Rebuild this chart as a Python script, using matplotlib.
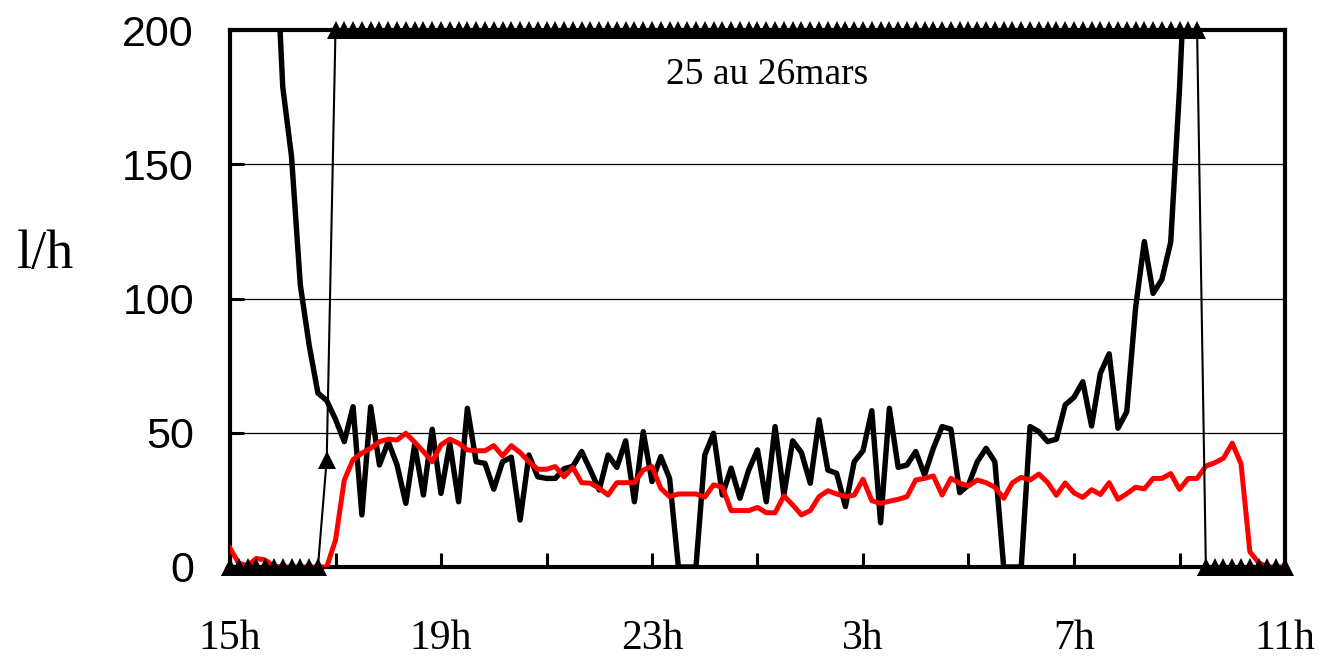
import numpy as np
import matplotlib
matplotlib.use("Agg")
import matplotlib.pyplot as plt
from matplotlib.ticker import MultipleLocator

# ---- Data (one sample every 10 minutes, from 15h to 11h next day) ----
minutes = np.arange(0, 20 * 60 + 1, 10)
hours = minutes / 60.0

# thick black series (values above 200 fall outside the plot)
debit = [
    380, 350, 320, 290, 265, 248,
    178.8, 152.8, 105, 82.7, 64.8, 62,
    55, 46.7, 59.7, 19.4, 59.7, 38, 46.7, 38,
    23.7, 45.5, 26.8, 51.3, 27.4, 46, 24.3, 59.1, 39.2, 38.6,
    29, 39.2, 40.9, 17.5, 41.7, 33.6, 33, 33, 36.6, 37.5,
    43, 36, 28.7, 41.7, 37.1, 47, 24.3, 50.4, 31.8, 41.1,
    33, 0, 0, 0, 41.7, 49.8, 26.8, 36.8, 25.6, 36.1,
    43.6, 24.3, 52.3, 26.8, 47, 42.6, 31.2, 54.8, 36.1, 34.9,
    22.5, 39.2, 43.3, 58.2, 16.5, 59.1, 37.1, 38, 43, 34.3,
    44.2, 52.3, 51.3, 27.7, 30.6, 39.2, 44.2, 39.2, 0, 0,
    0, 52.3, 50.4, 46.7, 47.6, 60.4, 63.2, 69, 52.5, 72.2,
    79.4, 51.7, 57.8, 96.4, 121.2, 101.9, 107.1, 121, 178, 250,
    290, 320, 340, 350, 360, 360, 350, 340, 330, 320, 300,
]

# red series
debit_rouge = [
    7, 1.4, 0.5, 3.2, 2.6, 0.3, 0, 0, 0, 0,
    0, 0, 10, 32.4, 40, 42.4, 44.2, 46.7, 47.6, 47.3,
    49.8, 46.5, 43, 39.2, 45.5, 47.6, 46.1, 43.6, 43.3, 43.3,
    45.2, 41.4, 45.2, 42.6, 39.2, 36.4, 36.4, 37.4, 33.6, 37.1,
    31.4, 31.2, 29.3, 26.8, 31.4, 31.4, 31.4, 36.1, 37.4, 29.3,
    26.2, 27.2, 27.2, 27.2, 26, 30.6, 29.7, 21, 21, 21,
    22.2, 20.2, 20.2, 26.5, 23.1, 19.4, 21, 26.2, 28.4, 27.2,
    26.2, 26.8, 32.7, 24.7, 23.7, 24.5, 25.2, 26.2, 32.4, 33,
    33.9, 26.8, 33, 31.2, 30.2, 32.4, 31.4, 29.7, 25.6, 31.4,
    33.4, 32.4, 34.6, 31.5, 26.7, 31.3, 27.6, 25.9, 28.8, 27,
    31.4, 25.2, 27.3, 29.7, 29.1, 33, 33, 34.8, 28.9, 33,
    33, 37.6, 38.8, 40.5, 46.1, 38.4, 5.7, 1.6, 0, 0, 0,
]

# triangle series (on / off, shown at 0 or 200)
marche = [0] * 11 + [40] + [200] * 99 + [0] * 10

x_ticks = [0, 4, 8, 12, 16, 20]
x_labels = ["15h", "19h", "23h", "3h", "7h", "11h"]
y_ticks = [0, 50, 100, 150, 200]

# ---- Plot ----
fig = plt.figure(figsize=(13.26, 6.58), dpi=100)
ax = fig.add_axes([230 / 1326, 1 - 567 / 658, 1055 / 1326, 537 / 658])

ax.plot(hours, debit, color="black", linewidth=3.9, zorder=3)
ax.plot(hours, debit_rouge, color="red", linewidth=3.6, zorder=4)
ax.plot(hours, marche, color="black", linewidth=1.5, marker="^",
        markersize=13, markeredgewidth=0, clip_on=False, zorder=5)

ax.set_xlim(0, 20)
ax.set_ylim(0, 200)

# grid lines at 50, 100, 150
for yv in [50, 100, 150]:
    ax.axhline(yv, color="black", linewidth=0.9, zorder=1)

for side in ["left", "right", "top", "bottom"]:
    ax.spines[side].set_linewidth(3.0)

ax.xaxis.set_major_locator(MultipleLocator(4))
ax.xaxis.set_minor_locator(MultipleLocator(2))
ax.set_xticks(x_ticks)
ax.set_xticklabels(x_labels, fontfamily="Liberation Serif", fontsize=30)
ax.set_yticks(y_ticks)
ax.set_yticklabels([str(v) for v in y_ticks], fontfamily="Liberation Sans", fontsize=31)

ax.tick_params(axis="x", which="both", direction="in", length=10, width=2.2, pad=38)
ax.tick_params(axis="y", which="both", direction="in", length=10, width=2.2, pad=26)

ax.text(0.509, 0.916, "25 au 26mars", transform=ax.transAxes, ha="center", va="center",
        fontfamily="Liberation Serif", fontsize=27)
fig.text(45 / 1326, 1 - 255 / 658, "l/h", ha="center", va="center",
         fontfamily="Liberation Serif", fontsize=39)

plt.savefig("out.png", dpi=100)
plt.close(fig)
